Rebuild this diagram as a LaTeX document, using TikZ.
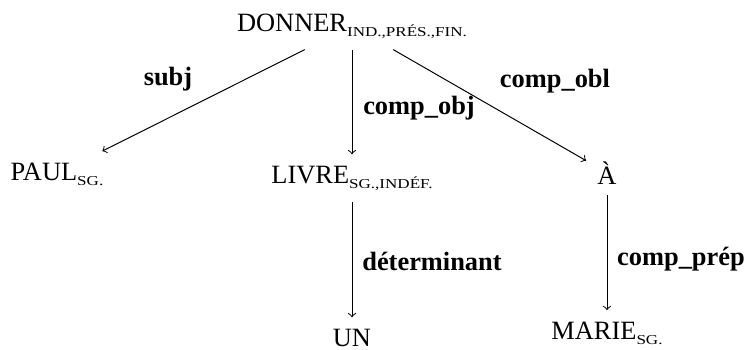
\documentclass[tikz,border=0pt]{standalone}
\usepackage{fontspec}
\setmainfont{Liberation Serif}
% small-caps-like grammatical features, set low after the lexeme
\newfontfamily\featfont[FakeStretch=1.25]{Liberation Serif}
\newcommand{\feat}[1]{\raisebox{-2.3pt}{\fontsize{6.2}{7}\featfont #1}}

\begin{document}
\begin{tikzpicture}[x=0.4545pt,y=-0.4545pt,
  word/.style={inner sep=5pt, anchor=base, font=\fontsize{12}{14}\selectfont},
  rel/.style={inner sep=0pt, anchor=base, font=\fontsize{12}{14}\selectfont\bfseries},
  dep/.style={->, line width=0.45pt}]
\useasboundingbox (0,0) rectangle (749,350);

% lexical nodes
\node[word] (donner) at (352,31)  {DONNER\feat{IND.,PRÉS.,FIN.}};
\node[word] (paul)   at (57,180)  {PAUL\feat{SG.}};
\node[word] (livre)  at (352,183) {LIVRE\feat{SG.,INDÉF.}};
\node[word] (a)      at (607,184) {À};
\node[word] (un)     at (352,346) {UN};
\node[word] (marie)  at (607,339) {MARIE\feat{SG.}};

% dependencies
\draw[dep] (donner) -- (paul);
\draw[dep] (donner) -- (livre);
\draw[dep] (donner) -- (a);
\draw[dep] (livre) -- (un);
\draw[dep] (a) -- (marie);

% relation labels
\node[rel] (lsubj) at (168,85)  {subj};
\node[rel] (lobj)  at (419,114) {comp\_obj};
\node[rel] (lobl)  at (555,87)  {comp\_obl};
\node[rel] (ldet)  at (432,270) {déterminant};
\node[rel] (lprep) at (681,265) {comp\_prép};
\end{tikzpicture}
\end{document}
